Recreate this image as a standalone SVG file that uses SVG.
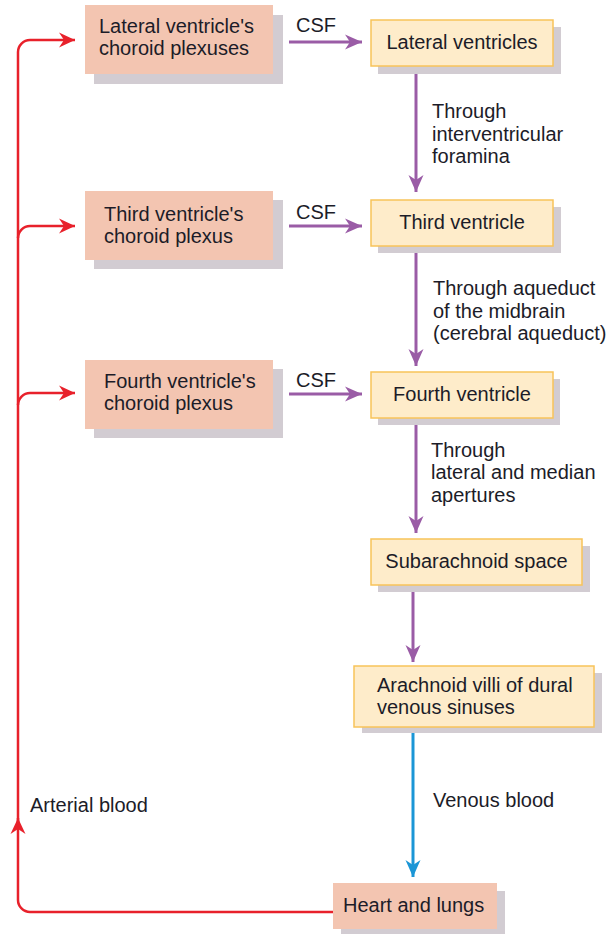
<svg xmlns="http://www.w3.org/2000/svg" width="610" height="934" viewBox="0 0 610 934">
<style>
text{font-family:"Liberation Sans",Arial,sans-serif;font-size:20px;fill:#1c1c28}
.sal{fill:#f3c5b1}
.yel{fill:#feecca;stroke:#f8c35a;stroke-width:1.5}
.sh{fill:#d2ccd2}
.pur{stroke:#9a5ca6;stroke-width:3;fill:none}
.red{stroke:#e8212b;stroke-width:2.5;fill:none}
.blu{stroke:#1b96d6;stroke-width:3;fill:none}
.c{text-anchor:middle}
</style>
<defs>
<marker id="ap" markerUnits="userSpaceOnUse" markerWidth="20" markerHeight="20" viewBox="-18 -9 20 18" refX="0" refY="0" orient="auto"><path d="M0,0 L-17,-7.5 L-12,0 L-17,7.5 Z" fill="#9a5ca6"/></marker>
<marker id="ar" markerUnits="userSpaceOnUse" markerWidth="20" markerHeight="20" viewBox="-18 -9 20 18" refX="0" refY="0" orient="auto"><path d="M0,0 L-16,-7.5 L-11,0 L-16,7.5 Z" fill="#e8212b"/></marker>
<marker id="ab" markerUnits="userSpaceOnUse" markerWidth="20" markerHeight="20" viewBox="-18 -9 20 18" refX="0" refY="0" orient="auto"><path d="M0,0 L-17,-7.5 L-12,0 L-17,7.5 Z" fill="#1b96d6"/></marker>
</defs>

<g id="connectors">
<line class="pur" x1="289" y1="42" x2="362" y2="42" marker-end="url(#ap)"/>
<line class="pur" x1="289" y1="226" x2="362" y2="226" marker-end="url(#ap)"/>
<line class="pur" x1="289" y1="394" x2="362" y2="394" marker-end="url(#ap)"/>
<line class="pur" x1="416" y1="66" x2="416" y2="192" marker-end="url(#ap)"/>
<line class="pur" x1="416" y1="246" x2="416" y2="366" marker-end="url(#ap)"/>
<line class="pur" x1="416" y1="418" x2="416" y2="533" marker-end="url(#ap)"/>
<line class="pur" x1="413" y1="585" x2="413" y2="662" marker-end="url(#ap)"/>
<line class="blu" x1="413" y1="727" x2="413" y2="877" marker-end="url(#ab)"/>
<path class="red" d="M334,912 H30 A12,12 0 0 1 18,900 V818" marker-end="url(#ar)"/>
<path class="red" d="M18,825 V52 A12,12 0 0 1 30,40 H75" marker-end="url(#ar)"/>
<path class="red" d="M18,238 A12,12 0 0 1 30,226 H75" marker-end="url(#ar)"/>
<path class="red" d="M18,405 A12,12 0 0 1 30,393 H75" marker-end="url(#ar)"/>
<text x="296" y="32">CSF</text>
<text x="296" y="219">CSF</text>
<text x="296" y="387">CSF</text>
<text x="432" y="118">Through</text>
<text x="432" y="141">interventricular</text>
<text x="432" y="163">foramina</text>
<text x="433" y="295">Through aqueduct</text>
<text x="433" y="318">of the midbrain</text>
<text x="433" y="340">(cerebral aqueduct)</text>
<text x="431" y="457">Through</text>
<text x="431" y="479">lateral and median</text>
<text x="431" y="502">apertures</text>
<text x="433" y="807">Venous blood</text>
<text x="30" y="812">Arterial blood</text>
</g>

<g id="lat-plexus">
<rect class="sh" x="94" y="15" width="189" height="69"/>
<rect class="sal" x="85" y="5" width="188" height="69"/>
<text x="99" y="33">Lateral ventricle's</text>
<text x="99" y="55">choroid plexuses</text>
</g>
<g id="third-plexus">
<rect class="sh" x="94" y="200" width="189" height="69"/>
<rect class="sal" x="85" y="191" width="188" height="69"/>
<text x="104" y="221">Third ventricle's</text>
<text x="104" y="243">choroid plexus</text>
</g>
<g id="fourth-plexus">
<rect class="sh" x="94" y="369" width="189" height="69"/>
<rect class="sal" x="85" y="360" width="188" height="69"/>
<text x="104" y="388">Fourth ventricle's</text>
<text x="104" y="410">choroid plexus</text>
</g>

<g id="lat-ventricles">
<rect class="sh" x="378" y="27" width="183" height="47"/>
<rect class="yel" x="371" y="20" width="182" height="46"/>
<text class="c" x="462" y="49">Lateral ventricles</text>
</g>
<g id="third-ventricle">
<rect class="sh" x="378" y="207" width="183" height="46"/>
<rect class="yel" x="371" y="200" width="182" height="46"/>
<text class="c" x="462" y="229">Third ventricle</text>
</g>
<g id="fourth-ventricle">
<rect class="sh" x="378" y="379" width="182" height="46"/>
<rect class="yel" x="371" y="372" width="182" height="46"/>
<text class="c" x="462" y="401">Fourth ventricle</text>
</g>
<g id="subarachnoid">
<rect class="sh" x="378" y="546" width="212" height="46"/>
<rect class="yel" x="371" y="539" width="211" height="46"/>
<text class="c" x="476.5" y="568">Subarachnoid space</text>
</g>
<g id="arachnoid-villi">
<rect class="sh" x="362" y="673" width="240" height="60"/>
<rect class="yel" x="354" y="666" width="240" height="61"/>
<text x="377" y="692">Arachnoid villi of dural</text>
<text x="377" y="714">venous sinuses</text>
</g>
<g id="heart-lungs">
<rect class="sh" x="341" y="891" width="164" height="46"/>
<rect class="sal" x="333" y="883" width="164" height="46"/>
<text x="343" y="912">Heart and lungs</text>
</g>
</svg>
